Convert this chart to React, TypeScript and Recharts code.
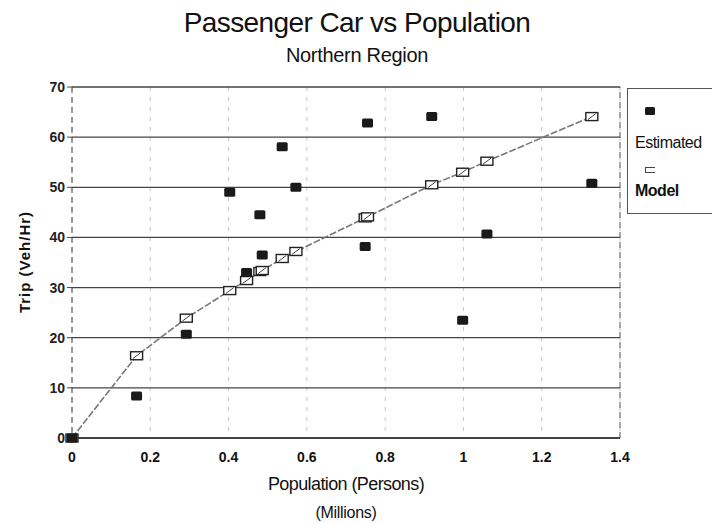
import { ScatterChart, Scatter, XAxis, YAxis, CartesianGrid, ReferenceLine } from 'recharts'

// population in millions, shared by both series
const population = [0, 0.165, 0.292, 0.403, 0.446, 0.48, 0.486, 0.537, 0.572, 0.749, 0.755, 0.919, 0.998, 1.06, 1.328]
const estimatedTrip = [0, 8.4, 20.7, 49.0, 33.0, 44.5, 36.5, 58.1, 50.0, 38.2, 62.8, 64.1, 23.5, 40.7, 50.8]
const modelTrip = [0, 16.4, 23.9, 29.4, 31.4, 33.2, 33.4, 35.8, 37.2, 43.9, 44.1, 50.5, 53.0, 55.2, 64.1]

const xTicks = [0, 0.2, 0.4, 0.6, 0.8, 1, 1.2, 1.4]
const yTicks = [0, 10, 20, 30, 40, 50, 60, 70]

const estimatedData = population.map((p, i) => ({ x: p, y: estimatedTrip[i] }))
const modelData = population.map((p, i) => ({ x: p, y: modelTrip[i] }))

const font = '"Liberation Sans", Arial, sans-serif'

function FilledMark(props: any) {
  const { cx, cy } = props
  return <rect x={cx - 5.5} y={cy - 4.5} width={11} height={9} rx={1.5} fill="#1a1a1a" />
}

function OpenMark(props: any) {
  const { cx, cy } = props
  return (
    <g>
      <rect x={cx - 6} y={cy - 4} width={12} height={8} fill="#fff" stroke="#222" strokeWidth={1.4} />
      <line x1={cx - 4} y1={cy + 3} x2={cx + 4} y2={cy - 3} stroke="#444" strokeWidth={1} />
    </g>
  )
}

function LegendBox() {
  return (
    <div
      style={{
        position: 'absolute',
        left: 627,
        top: 88,
        width: 100,
        height: 124,
        border: '1.5px solid #555',
        fontFamily: font,
        fontSize: 16,
        color: '#111',
      }}
    >
      <div style={{ position: 'absolute', left: 17, top: 18, width: 10, height: 8, background: '#1a1a1a', borderRadius: 1.5 }} />
      <div style={{ position: 'absolute', left: 7, top: 45, letterSpacing: -0.5 }}>Estimated</div>
      <div style={{ position: 'absolute', left: 17, top: 78, width: 9, height: 4, border: '1.3px solid #444', borderRight: 'none' }} />
      <div style={{ position: 'absolute', left: 7, top: 93, fontWeight: 700, letterSpacing: -0.5 }}>Model</div>
    </div>
  )
}

export default function App() {
  return (
    <div style={{ position: 'absolute', left: 0, top: 0, width: 712, height: 523, background: '#fff', overflow: 'hidden', fontFamily: font }}>
      <ScatterChart width={712} height={523} margin={{ top: 87, right: 92, bottom: 55, left: 22 }}>
        <CartesianGrid horizontal={false} vertical stroke="#c8c8c8" strokeDasharray="4 6" />
        <CartesianGrid vertical={false} horizontal stroke="#444" strokeWidth={1.3} />
        <XAxis
          type="number"
          dataKey="x"
          domain={[0, 1.4]}
          ticks={xTicks}
          height={30}
          axisLine={{ stroke: '#333', strokeWidth: 1.5 }}
          tickLine={false}
          tick={{ fill: '#111', fontSize: 14, fontWeight: 600, fontFamily: font }}
          tickMargin={8}
        />
        <YAxis
          type="number"
          dataKey="y"
          domain={[0, 70]}
          ticks={yTicks}
          width={50}
          axisLine={{ stroke: '#444', strokeDasharray: '6 4' }}
          tickLine={{ stroke: '#444' }}
          tickSize={5}
          tick={{ fill: '#222', fontSize: 14, fontWeight: 600, fontFamily: font }}
        />
        <ReferenceLine x={1.4} stroke="#555" strokeDasharray="6 4" />
        <Scatter
          name="Model"
          data={modelData}
          shape={<OpenMark />}
          line={{ stroke: '#777', strokeWidth: 1.6, strokeDasharray: '7 2' }}
          lineType="joint"
          isAnimationActive={false}
        />
        <Scatter name="Estimated" data={estimatedData} shape={<FilledMark />} isAnimationActive={false} />
      </ScatterChart>
      <LegendBox />
      <svg width={712} height={523} style={{ position: 'absolute', left: 0, top: 0, pointerEvents: 'none' }} fontFamily={font} fill="#111">
        <text x={357} y={32} textAnchor="middle" fontSize={28} letterSpacing={-0.6}>
          Passenger Car vs Population
        </text>
        <text x={357} y={62} textAnchor="middle" fontSize={20} letterSpacing={-0.3}>
          Northern Region
        </text>
        <text x={346} y={490} textAnchor="middle" fontSize={18} letterSpacing={-0.6}>
          Population (Persons)
        </text>
        <text x={346} y={518} textAnchor="middle" fontSize={16} letterSpacing={-0.3}>
          (Millions)
        </text>
        <text x={30} y={262} textAnchor="middle" fontSize={15} fontWeight={700} letterSpacing={1} transform="rotate(-90, 30, 262)">
          Trip (Veh/Hr)
        </text>
      </svg>
    </div>
  )
}
